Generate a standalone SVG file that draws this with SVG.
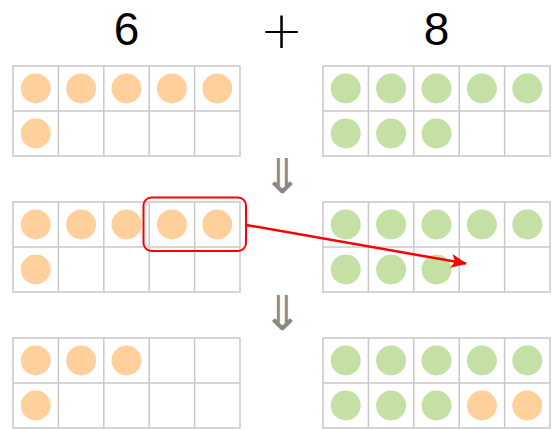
<svg xmlns="http://www.w3.org/2000/svg" width="558" height="430" viewBox="0 0 558 430">
<style>
.num{font-family:"Liberation Sans","DejaVu Sans",sans-serif;font-size:46px;fill:#000;text-anchor:middle}
.plus{font-family:"DejaVu Sans",sans-serif;font-size:52px;font-weight:200;fill:#000;text-anchor:middle}
.down{font-family:"DejaVu Sans",sans-serif;font-size:48px;fill:#888;text-anchor:middle}
.frame{fill:#fff;stroke:#c8c8c8;stroke-width:1.5}
.ln{stroke:#c8c8c8;stroke-width:1.5}
.o{fill:#ffd09b}
.g{fill:#c5e0a5}
</style>
<defs>
<g id="grid">
<rect class="frame" x="0" y="0" width="227" height="90"/>
<line class="ln" x1="0" y1="45" x2="227" y2="45"/>
<line class="ln" x1="45.4" y1="0" x2="45.4" y2="90"/>
<line class="ln" x1="90.8" y1="0" x2="90.8" y2="90"/>
<line class="ln" x1="136.2" y1="0" x2="136.2" y2="90"/>
<line class="ln" x1="181.6" y1="0" x2="181.6" y2="90"/>
</g>
<marker id="ah" markerWidth="16" markerHeight="14" refX="15" refY="7" orient="auto" markerUnits="userSpaceOnUse">
<path d="M0,0 L16,7 L0,14 L4,7 Z" fill="#f00"/>
</marker>
</defs>
<g id="title">
<text class="num" x="126.5" y="45">6</text>
<text class="plus" x="281.5" y="48">+</text>
<text class="num" x="436.5" y="45">8</text>
</g>
<g id="top-left">
<use href="#grid" x="13" y="66"/>
<circle class="o" cx="35.7" cy="88.5" r="15"/><circle class="o" cx="81.1" cy="88.5" r="15"/><circle class="o" cx="126.5" cy="88.5" r="15"/><circle class="o" cx="171.9" cy="88.5" r="15"/><circle class="o" cx="217.3" cy="88.5" r="15"/>
<circle class="o" cx="35.7" cy="133.5" r="15"/>
</g>
<g id="top-right">
<use href="#grid" x="323" y="66"/>
<circle class="g" cx="345.7" cy="88.5" r="15"/><circle class="g" cx="391.1" cy="88.5" r="15"/><circle class="g" cx="436.5" cy="88.5" r="15"/><circle class="g" cx="481.9" cy="88.5" r="15"/><circle class="g" cx="527.3" cy="88.5" r="15"/>
<circle class="g" cx="345.7" cy="133.5" r="15"/><circle class="g" cx="391.1" cy="133.5" r="15"/><circle class="g" cx="436.5" cy="133.5" r="15"/>
</g>
<g id="down1"><text class="down" x="282" y="193">⇓</text></g>
<g id="mid-left">
<use href="#grid" x="13" y="202"/>
<circle class="o" cx="35.7" cy="224.5" r="15"/><circle class="o" cx="81.1" cy="224.5" r="15"/><circle class="o" cx="126.5" cy="224.5" r="15"/><circle class="o" cx="171.9" cy="224.5" r="15"/><circle class="o" cx="217.3" cy="224.5" r="15"/>
<circle class="o" cx="35.7" cy="269.5" r="15"/>
</g>
<g id="mid-right">
<use href="#grid" x="323" y="202"/>
<circle class="g" cx="345.7" cy="224.5" r="15"/><circle class="g" cx="391.1" cy="224.5" r="15"/><circle class="g" cx="436.5" cy="224.5" r="15"/><circle class="g" cx="481.9" cy="224.5" r="15"/><circle class="g" cx="527.3" cy="224.5" r="15"/>
<circle class="g" cx="345.7" cy="269.5" r="15"/><circle class="g" cx="391.1" cy="269.5" r="15"/><circle class="g" cx="436.5" cy="269.5" r="15"/>
</g>
<g id="highlight">
<rect x="143.5" y="197.5" width="102.5" height="53.5" rx="8" fill="none" stroke="#f00" stroke-width="2"/>
</g>
<g id="down2"><text class="down" x="282" y="330">⇓</text></g>
<g id="bottom-left">
<use href="#grid" x="13" y="338"/>
<circle class="o" cx="35.7" cy="360.5" r="15"/><circle class="o" cx="81.1" cy="360.5" r="15"/><circle class="o" cx="126.5" cy="360.5" r="15"/>
<circle class="o" cx="35.7" cy="405.5" r="15"/>
</g>
<g id="bottom-right">
<use href="#grid" x="323" y="338"/>
<circle class="g" cx="345.7" cy="360.5" r="15"/><circle class="g" cx="391.1" cy="360.5" r="15"/><circle class="g" cx="436.5" cy="360.5" r="15"/><circle class="g" cx="481.9" cy="360.5" r="15"/><circle class="g" cx="527.3" cy="360.5" r="15"/>
<circle class="g" cx="345.7" cy="405.5" r="15"/><circle class="g" cx="391.1" cy="405.5" r="15"/><circle class="g" cx="436.5" cy="405.5" r="15"/><circle class="o" cx="481.9" cy="405.5" r="15"/><circle class="o" cx="527.3" cy="405.5" r="15"/>
</g>
<g id="connectors">
<line x1="246.5" y1="225" x2="466" y2="263.5" stroke="#f00" stroke-width="2.5" marker-end="url(#ah)"/>
</g>
</svg>
